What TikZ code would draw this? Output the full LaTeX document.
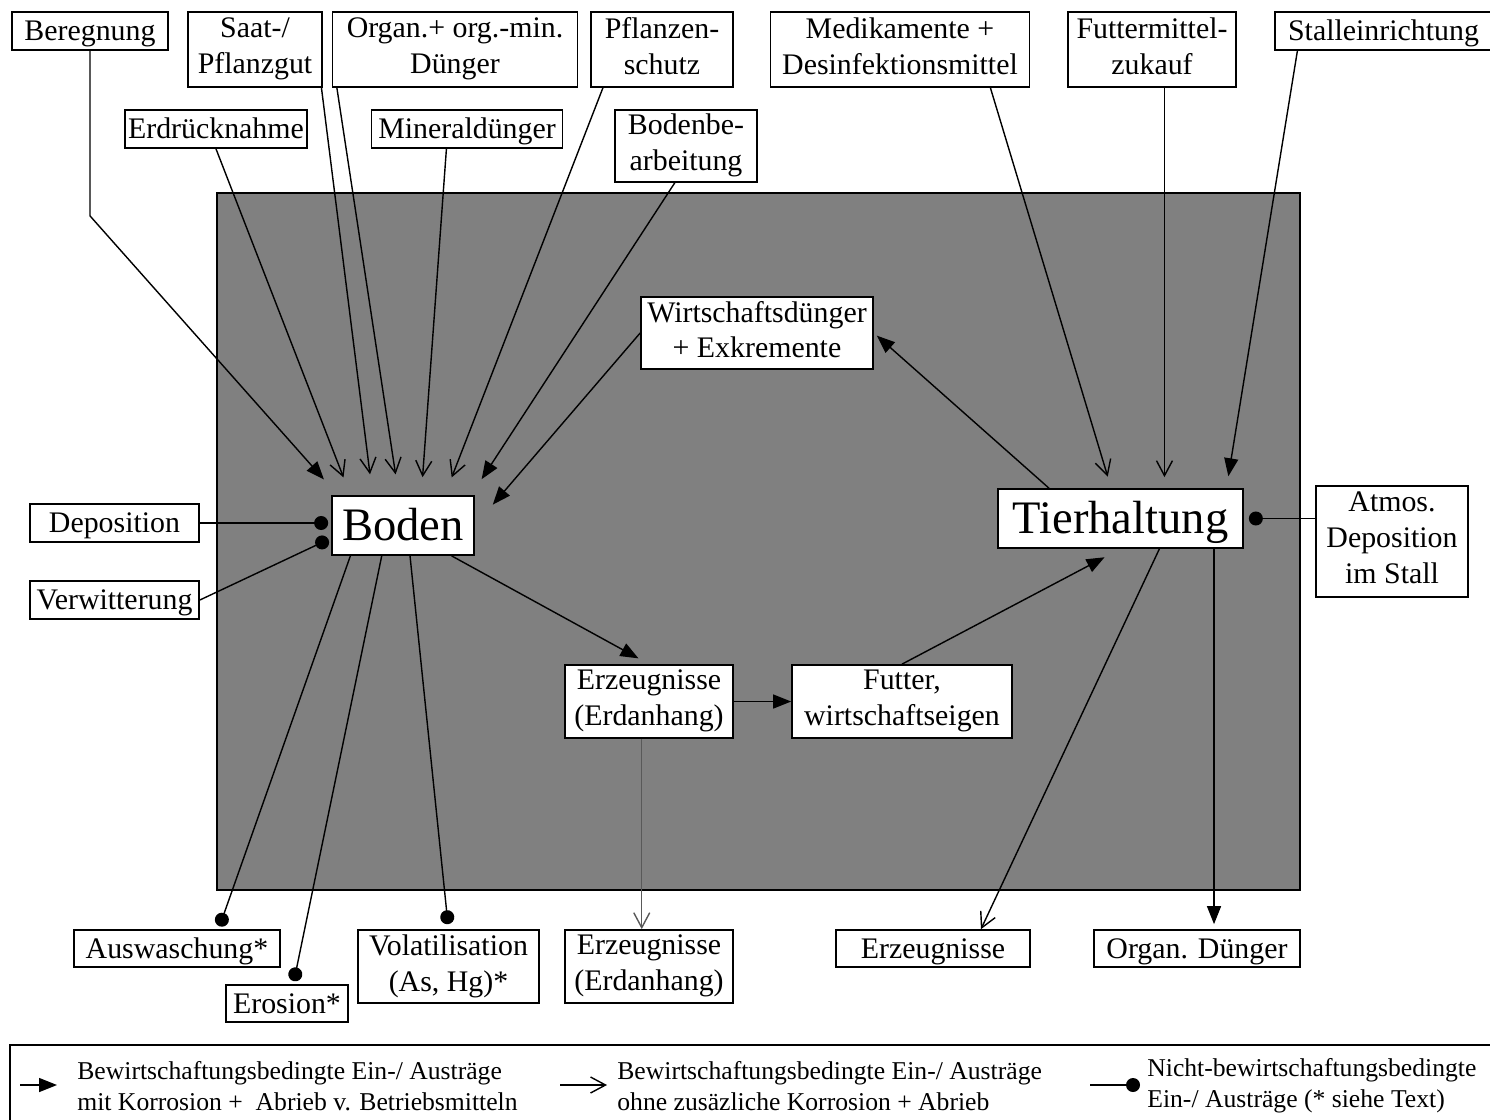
\documentclass[tikz,border=0pt]{standalone}
\usepackage{fontspec}
\setmainfont{Liberation Serif}
\usetikzlibrary{arrows.meta}
\definecolor{fieldgray}{RGB}{128,128,128}

\begin{document}
\begin{tikzpicture}[x=0.02cm, y=-0.02cm,
    box/.style={draw=black, fill=white, line width=1pt, inner sep=0pt, align=center,
                font=\fontsize{17}{20.4}\selectfont,
                execute at begin node={\rule{0pt}{0.9em}},
                execute at end node={\rule[-0.24em]{0pt}{0.24em}}},
    bigbox/.style={box, font=\fontsize{26.5}{30}\selectfont},
    legend/.style={inner sep=0pt, align=left, anchor=west, font=\fontsize{14.6}{17.6}\selectfont},
    flow/.style={line width=0.8pt},
    fillarrow/.style={flow, -{Triangle[length=0.36cm,width=0.28cm]}},
    openarrow/.style={flow, -{Straight Barb[length=0.3cm,width=0.32cm]}},
    dotarrow/.style={flow, -{Circle[length=0.28cm]}}]
     \useasboundingbox (0,0) rectangle (1490,1119);
     % Betrieb
     \draw[fill=fieldgray, line width=1pt] (217,193) rectangle (1300,890);
     % Eintraege oben
     \node[box, minimum width=3.12cm, minimum height=0.76cm] (beregnung) at (90,31) {Beregnung};
     \node[box, minimum width=2.68cm, minimum height=1.5cm] (saat) at (255,49.5) {Saat-/\\Pflanzgut};
     \node[box, minimum width=4.9cm, minimum height=1.5cm] (organ) at (455,49.5) {Organ.+ org.-min.\\Dünger};
     \node[box, minimum width=2.84cm, minimum height=1.5cm] (pflschutz) at (662,49.5) {Pflanzen-\\schutz};
     \node[box, minimum width=3.64cm, minimum height=0.76cm] (erdrueck) at (216,129) {Erdrücknahme};
     \node[box, minimum width=3.82cm, minimum height=0.76cm] (mineral) at (467,129) {Mineraldünger};
     \node[box, minimum width=2.84cm, minimum height=1.44cm] (bodenbearb) at (686,146) {Bodenbe-\\arbeitung};
     \node[box, minimum width=5.18cm, minimum height=1.5cm] (medik) at (900,49.5) {Medikamente +\\Desinfektionsmittel};
     \node[box, minimum width=3.36cm, minimum height=1.5cm] (zukauf) at (1152,49.5) {Futtermittel-\\zukauf};
     \node[box, minimum width=4.34cm, minimum height=0.76cm] (stall) at (1383.5,31) {Stalleinrichtung};
     % innen
     \node[box, minimum width=4.64cm, minimum height=1.44cm] (wirtdung) at (757,333) {Wirtschaftsdünger\\+ Exkremente};
     \node[bigbox, minimum width=2.84cm, minimum height=1.18cm] (boden) at (403,525.5) {Boden};
     \node[bigbox, minimum width=4.9cm, minimum height=1.18cm] (tier) at (1120.5,518.5) {Tierhaltung};
     \node[box, minimum width=3.36cm, minimum height=1.46cm] (erzeug) at (649,701.5) {Erzeugnisse\\(Erdanhang)};
     \node[box, minimum width=4.4cm, minimum height=1.46cm] (futter) at (902,701.5) {Futter,\\wirtschaftseigen};
     % seitlich
     \node[box, minimum width=3.38cm, minimum height=0.76cm] (depos) at (114.5,523) {Deposition};
     \node[box, minimum width=3.38cm, minimum height=0.76cm] (verwitt) at (114.5,600) {Verwitterung};
     \node[box, minimum width=3.04cm, minimum height=2.22cm] (atmos) at (1392,541.5) {Atmos.\\Deposition\\im Stall};
     % Austraege unten
     \node[box, minimum width=4.12cm, minimum height=0.74cm] (auswasch) at (177,948.5) {Auswaschung*};
     \node[box, minimum width=2.44cm, minimum height=0.74cm] (erosion) at (287,1003.5) {Erosion*};
     \node[box, minimum width=3.62cm, minimum height=1.46cm] (volatil) at (448.5,966.5) {Volatilisation\\(As, Hg)*};
     \node[box, minimum width=3.36cm, minimum height=1.46cm] (erzeugab) at (649,966.5) {Erzeugnisse\\(Erdanhang)};
     \node[box, minimum width=3.88cm, minimum height=0.74cm] (erzeugtier) at (933,948.5) {Erzeugnisse};
     \node[box, minimum width=4.12cm, minimum height=0.74cm] (orgdung) at (1197,948.5) {Organ. Dünger};
     % Eintraege Boden
     \draw[fillarrow, shorten >=0.42cm] (beregnung.south) -- ++(0,165) -- (boden.155);
     \draw[openarrow, shorten >=0.38cm] (erdrueck.south) -- (boden.150);
     \draw[openarrow, shorten >=0.42cm] (saat.-30) -- (boden.135);
     \draw[openarrow, shorten >=0.42cm] (organ.198) -- (boden.98);
     \draw[openarrow, shorten >=0.36cm] (mineral.-136) -- (boden.59);
     \draw[openarrow, shorten >=0.38cm] (pflschutz.-147) -- (boden.36);
     \draw[fillarrow, shorten >=0.38cm] (bodenbearb.-107) -- (boden.24);
     \draw[fillarrow, shorten >=0.55cm] (wirtdung.west) -- (boden.east);
     \draw[dotarrow, shorten >=0.06cm] (depos.east) -- (depos.east -| boden.west);
     \draw[dotarrow, shorten >=0.06cm] (verwitt.east) -- (boden.190);
     % Eintraege Tierhaltung
     \draw[openarrow, shorten >=0.24cm] (medik.-23) -- (tier.107);
     \draw[openarrow, shorten >=0.22cm] (zukauf.-72) -- (zukauf.-72 |- tier.north);
     \draw[fillarrow, shorten >=0.24cm] (stall.193) -- (tier.16);
     \draw[dotarrow, shorten >=0.1cm] (atmos.west |- tier.east) -- (tier.east);
     % Kreislauf
     \draw[fillarrow, shorten >=0.08cm] (tier.157) -- (wirtdung.east);
     \draw[fillarrow, shorten >=0.24cm] (boden.-32) -- (erzeug.north);
     \draw[fillarrow] (erzeug.east) -- (futter.west);
     \draw[fillarrow, shorten >=0.36cm] (futter.north) -- (tier.south);
     % Austraege
     \draw[dotarrow, shorten >=0.06cm] (boden.210) -- (auswasch.25);
     \draw[dotarrow, shorten >=0.06cm] (boden.-125) -- (erosion.72);
     \draw[dotarrow, shorten >=0.1cm] (boden.-77) -- (volatil.north);
     \draw[openarrow, draw=black!65] (erzeug.-101) -- (erzeug.-101 |- erzeugab.north);
     \draw[openarrow] (tier.-38) -- (erzeugtier.22);
     \draw[fillarrow, shorten >=0.1cm] (tier.-18) -- (tier.-18 |- orgdung.north);
     % Legende
     \draw[line width=1pt] (10,1045) rectangle (1510,1140);
     \node[legend] (leg1) at (77,1086) {Bewirtschaftungsbedingte Ein-/ Austräge\\mit Korrosion +\ \ Abrieb v. Betriebsmitteln};
     \node[legend] (leg2) at (617,1086) {Bewirtschaftungsbedingte Ein-/ Austräge\\ohne zusäzliche Korrosion + Abrieb};
     \node[legend] (leg3) at (1147,1086) {Nicht-bewirtschaftungsbedingte\\Ein-/ Austräge (* siehe Text)};
     \coordinate (legfill) at (20,1085);
     \coordinate (legopen) at (560,1085);
     \coordinate (legdot) at (1090,1085);
     \draw[fillarrow, shorten >=0.4cm] (legfill) -- (legfill -| leg1.west);
     \draw[openarrow, shorten >=0.2cm] (legopen) -- (legopen -| leg2.west);
     \draw[dotarrow, shorten >=0.14cm] (legdot) -- (legdot -| leg3.west);
\end{tikzpicture}
\end{document}
